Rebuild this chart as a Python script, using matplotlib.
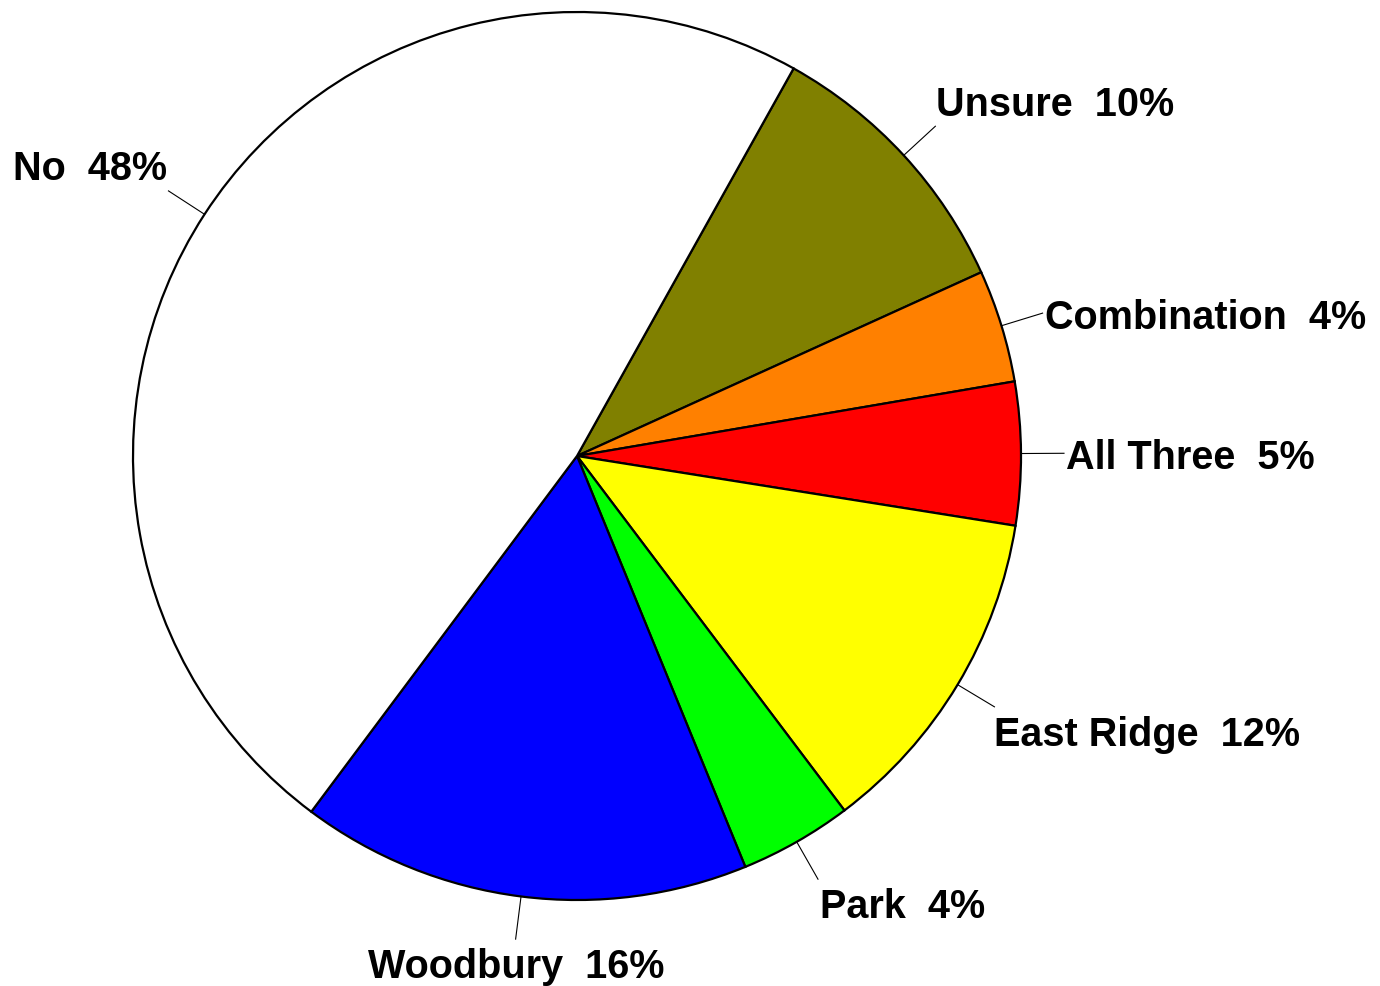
import numpy as np
import matplotlib
matplotlib.use("Agg")
import matplotlib.pyplot as plt

# slices, clockwise from the top-right edge of "No"
labels = ["Unsure", "Combination", "All Three", "East Ridge", "Park", "Woodbury", "No"]
values = [10.1, 4.1, 5.2, 12.2, 4.1, 16.4, 47.9]
colors = ["#808000", "#FF8000", "#FF0000", "#FFFF00", "#00FF00", "#0000FF", "#FFFFFF"]

W, H = 1380, 986
cx, cy, R = 577, H - 456, 444
start = 60.8
ext = 43

# where the text sits relative to the end of each leader line (pixels, y up)
text_off = [(1, 21, "left"), (2, -5, "left"), (2, -5, "left"), (0, -28, "left"),
            (2, -28, "left"), (1, -28, "center"), (-1, 22, "right")]

fig = plt.figure(figsize=(W / 100, H / 100), dpi=100)
ax = fig.add_axes([0, 0, 1, 1])

wedges, _ = ax.pie(values, colors=colors, startangle=start, counterclock=False,
                   center=(cx, cy), radius=R, frame=True,
                   wedgeprops=dict(edgecolor="black", linewidth=1.6))
ax.set_xlim(0, W)
ax.set_ylim(0, H)
ax.set_aspect("equal")
ax.axis("off")

total = sum(values)
for w, lab, v, (dx, dy, ha) in zip(wedges, labels, values, text_off):
    mid = np.deg2rad((w.theta1 + w.theta2) / 2)
    x0, y0 = cx + R * np.cos(mid), cy + R * np.sin(mid)
    x1, y1 = cx + (R + ext) * np.cos(mid), cy + (R + ext) * np.sin(mid)
    ax.plot([x0, x1], [y0, y1], color="black", lw=0.8)
    pct = round(v / total * 100)
    ax.text(x1 + dx, y1 + dy, f"{lab}  {pct}%", ha=ha, va="center",
            fontsize=28.5, fontweight="bold", family="Liberation Sans")

fig.savefig("out.png", dpi=100, facecolor="white")
